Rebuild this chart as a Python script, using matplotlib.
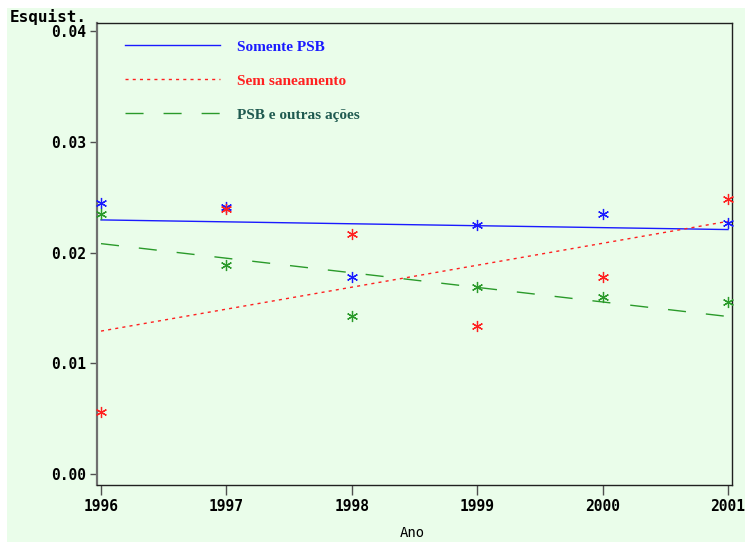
import numpy as np
import matplotlib
matplotlib.use("Agg")
from matplotlib import pyplot as plt
from matplotlib.lines import Line2D
from matplotlib.patches import Rectangle

# data
anos = [1996, 1997, 1998, 1999, 2000, 2001]
somente_psb = [0.0245, 0.0241, 0.0178, 0.0225, 0.0235, 0.0227]
sem_saneamento = [0.0056, 0.0239, 0.0217, 0.0134, 0.0178, 0.0248]
psb_outras = [0.0235, 0.0189, 0.0143, 0.0169, 0.0160, 0.0155]
y_ticks = [0.00, 0.01, 0.02, 0.03, 0.04]
y_ticklabels = ["0.00", "0.01", "0.02", "0.03", "0.04"]
nomes = ["Somente PSB", "Sem saneamento", "PSB e outras ações"]

bg = "#eafdea"
cores = ["#1a1aff", "#ff2020", "#2a9a2a"]
cores_txt = ["#1a1aff", "#ff2020", "#1f5a50"]
estilos = [dict(linestyle="-"),
           dict(linestyle=(0, (2.2, 3.0))),
           dict(linestyle=(0, (13, 14.4)))]

fig = plt.figure(figsize=(7.45, 5.42), dpi=100, facecolor="white")
# green backdrop with small white margin top/left
fig.patches.append(Rectangle((7 / 745, 0.0), 1.0, (542 - 8) / 542,
                             transform=fig.transFigure, facecolor=bg,
                             edgecolor="none", zorder=-5))

ax = fig.add_axes([97 / 745, 57 / 542, 635 / 745, 462 / 542])
ax.set_facecolor(bg)

x = np.array(anos, dtype=float)
series = [somente_psb, sem_saneamento, psb_outras]
handles = []
for ys, c, st, nome in zip(series, cores, estilos, nomes):
    ax.plot(x, ys, linestyle="none", marker=(6, 2, 0), markersize=8,
            markeredgewidth=0.9, color=c, zorder=3, clip_on=False)
    coef = np.polyfit(x, ys, 1)
    ax.plot(x, np.polyval(coef, x), color=c, lw=1.0, zorder=2, **st)
    handles.append(Line2D([], [], color=c, lw=1.0, **st, label=nome))

ax.set_xlim(1995.968, 2001.032)
ax.set_ylim(-0.000994, 0.04074)
ax.set_xticks(anos)
ax.set_xticklabels([str(a) for a in anos])
ax.set_yticks(y_ticks)
ax.set_yticklabels(y_ticklabels)

for lab in ax.get_xticklabels() + ax.get_yticklabels():
    lab.set_fontfamily("DejaVu Sans Mono")
    lab.set_fontweight("bold")
    lab.set_fontsize(10.5)
ax.tick_params(axis="y", direction="out", length=5, width=1, color="#505050", pad=3)
ax.tick_params(axis="x", direction="out", length=7, width=1, color="#505050", pad=3)

for s in ["top", "right", "bottom"]:
    ax.spines[s].set_color("#202020")
    ax.spines[s].set_linewidth(1.0)
ax.spines["left"].set_color("#707070")
ax.spines["left"].set_linewidth(1.6)

fig.text(10 / 745, 1 - 17 / 542, "Esquist.", ha="left", va="center",
         family="DejaVu Sans Mono", weight="bold", size=11.5)
fig.text(412 / 745, 1 - 533 / 542, "Ano", ha="center", va="center",
         family="DejaVu Sans Mono", size=10)

leg = ax.legend(handles=handles, loc="upper left",
                bbox_to_anchor=(28 / 635, (485 - 40) / 462),
                frameon=False, borderaxespad=0, borderpad=0,
                handlelength=6.2, handletextpad=1.15, labelspacing=1.33,
                prop=dict(family="Liberation Serif", weight="bold", size=11))
for t, c in zip(leg.get_texts(), cores_txt):
    t.set_color(c)

fig.savefig("out.png", dpi=100, facecolor=fig.get_facecolor())
